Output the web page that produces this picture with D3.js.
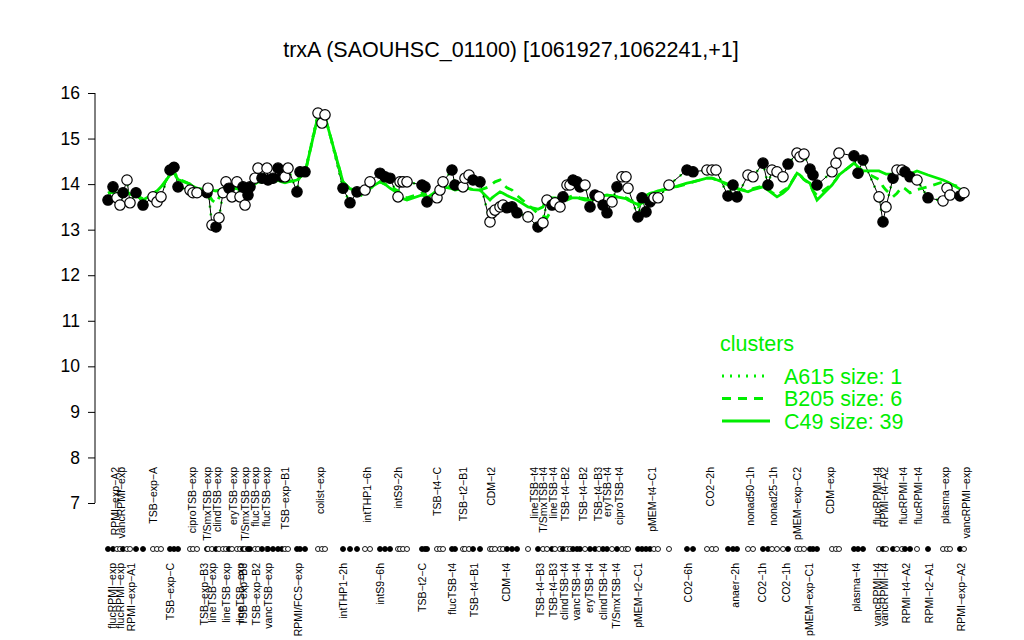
<!DOCTYPE html>
<html><head><meta charset="utf-8">
<script src="https://cdn.jsdelivr.net/npm/d3@7"></script>
<style>body{margin:0;background:#fff}svg{display:block}text{font-family:"Liberation Sans",Arial,sans-serif}</style>
</head><body><svg id="c" width="1024" height="640"></svg>
<script>
const title = "trxA (SAOUHSC_01100) [1061927,1062241,+1]";
const yTicks = [7,8,9,10,11,12,13,14,15,16];
// sample position along the condition order, expression value, filled marker flag
const samplePos = [0.2,1.2,2.0,2.6,3.2,4.0,4.6,5.8,7.2,9.2,10.0,10.8,12.6,13.4,14.2,16.6,17.2,18.0,20.0,20.2,21.0,21.8,22.4,23.2,23.8,24.4,25.0,26.0,26.6,27.2,27.6,28.2,28.6,29.6,30.2,31.0,32.0,32.2,33.2,34.2,35.0,35.6,36.2,38.0,38.6,39.6,42.2,43.0,43.6,47.2,48.6,50.0,51.6,52.6,54.6,55.6,56.6,58.2,58.6,59.2,60.0,63.0,63.6,64.0,66.0,66.6,67.2,69.0,69.6,71.2,71.6,72.4,73.2,74.6,76.6,77.0,77.6,78.6,79.2,80.0,81.0,82.0,84.2,86.2,87.2,88.0,89.0,89.6,90.6,91.2,92.0,92.6,93.2,94.0,94.6,95.6,96.6,97.6,98.4,99.2,100.0,101.0,102.0,103.0,103.8,104.2,106.2,107.0,107.8,108.6,109.4,110.2,112.4,116.0,117.2,120.0,121.0,121.8,124.2,125.2,126.0,128.2,129.2,131.2,132.2,133.0,134.0,135.2,136.2,138.0,138.6,139.4,140.6,141.2,142.0,145.0,145.8,146.4,149.4,150.2,151.2,154.4,155.2,155.8,157.2,158.0,159.0,159.6,160.6,162.0,164.2,167.2,168.0,168.6,170.6,171.4];
const values = [13.65,13.94,13.70,13.54,13.81,14.09,13.59,13.81,13.54,13.72,13.61,13.72,14.31,14.37,13.94,13.87,13.81,13.81,13.81,13.91,13.10,13.06,13.26,13.81,14.05,13.91,13.72,14.05,13.72,13.94,13.54,13.76,13.94,14.13,14.35,14.13,14.35,14.09,14.13,14.35,14.16,14.16,14.35,13.83,14.27,14.27,15.56,15.34,15.52,13.91,13.59,13.83,13.87,14.05,14.24,14.16,14.13,13.72,14.05,14.05,14.05,13.98,13.94,13.61,13.70,13.87,14.05,14.31,13.98,13.94,14.13,14.20,14.09,14.05,13.17,13.37,13.43,13.50,13.54,13.48,13.50,13.37,13.28,13.06,13.15,13.65,13.54,13.59,13.50,13.72,13.98,13.98,14.09,14.05,13.94,13.98,13.50,13.76,13.72,13.54,13.37,13.61,13.94,14.16,14.16,13.91,13.28,13.70,13.39,13.61,13.70,13.70,13.98,14.31,14.27,14.31,14.31,14.31,13.74,13.98,13.72,14.20,14.16,14.46,13.98,14.31,14.27,14.16,14.44,14.68,14.60,14.66,14.33,14.20,13.98,14.27,14.46,14.68,14.62,14.24,14.53,13.72,13.17,13.50,14.13,14.31,14.31,14.27,14.16,14.09,13.70,13.63,13.91,13.76,13.74,13.81];
const filled = [1,1,0,0,1,0,0,1,1,0,0,0,1,1,1,0,0,0,1,0,0,1,0,0,0,1,0,0,0,1,0,1,1,0,0,1,0,1,1,1,1,0,0,1,1,1,0,0,0,1,1,1,0,0,1,1,1,0,0,0,0,1,1,1,0,0,0,1,1,0,0,0,1,1,0,0,0,0,0,1,1,1,0,1,0,0,1,0,0,1,0,0,1,1,1,0,1,1,0,1,1,0,1,0,0,0,1,1,1,1,0,0,0,1,1,0,0,0,1,1,1,0,0,1,1,0,0,0,1,0,0,0,1,1,1,0,0,0,1,1,1,0,1,0,1,0,0,1,1,0,1,0,0,0,1,0];
// cluster mean profiles
const c49 = [13.80,13.82,13.80,13.78,13.80,13.82,13.78,13.75,13.65,13.78,13.85,13.94,14.20,14.25,14.10,14.00,13.95,13.91,13.87,13.87,13.87,13.85,13.87,13.90,13.92,13.94,13.90,13.90,13.87,13.90,13.85,13.90,13.95,14.00,14.05,14.05,14.08,14.05,14.05,14.08,14.05,14.03,14.05,14.09,14.15,14.24,15.50,15.45,15.48,14.05,13.90,13.85,13.81,13.92,14.05,14.00,13.91,13.80,13.72,13.68,13.65,13.76,13.74,13.70,13.85,13.94,13.94,13.90,13.87,13.90,13.91,13.90,13.88,13.87,13.65,13.70,13.75,13.83,13.80,13.75,13.70,13.65,13.50,13.45,13.50,13.72,13.70,13.70,13.68,13.68,13.65,13.68,13.70,13.70,13.68,13.65,13.65,13.70,13.72,13.74,13.76,13.74,13.72,13.70,13.68,13.65,13.55,13.70,13.75,13.80,13.82,13.85,13.90,14.02,14.05,14.13,14.13,14.10,14.00,13.95,13.90,13.83,13.88,13.94,13.87,13.80,13.72,13.80,13.90,14.24,14.20,14.10,14.02,13.85,13.65,13.98,14.10,14.20,14.46,14.38,14.29,14.29,14.25,14.22,14.22,14.24,14.22,14.20,14.22,14.29,14.20,14.09,14.05,14.02,13.89,13.85];
const b205 = [13.80,13.85,13.78,13.75,13.80,13.85,13.76,13.75,13.68,13.80,13.85,13.90,14.22,14.28,14.12,14.00,13.95,13.90,13.85,13.80,13.65,13.58,13.70,13.85,13.92,13.94,13.90,13.92,13.87,13.90,13.85,13.88,13.95,14.02,14.05,14.05,14.10,14.05,14.05,14.10,14.05,14.05,14.08,14.05,14.15,14.24,15.50,15.45,15.48,14.05,13.88,13.80,13.72,13.90,14.05,14.00,13.95,13.85,13.80,13.72,13.70,13.80,13.78,13.72,13.85,13.92,13.94,13.95,13.90,13.90,13.92,13.90,13.88,13.87,13.95,14.00,14.05,14.09,14.00,13.92,13.87,13.75,13.55,13.35,13.30,13.26,13.45,13.60,13.68,13.70,13.70,13.72,13.75,13.72,13.70,13.68,13.65,13.72,13.74,13.74,13.76,13.74,13.72,13.72,13.70,13.68,13.50,13.60,13.55,13.70,13.80,13.85,13.90,14.00,14.05,14.13,14.13,14.10,13.98,13.95,13.90,13.85,13.90,13.96,13.88,13.82,13.75,13.85,13.92,14.24,14.20,14.10,14.00,13.85,13.75,14.00,14.10,14.20,14.46,14.35,14.28,14.10,13.95,13.87,13.72,13.80,13.94,13.90,13.81,13.88,13.94,14.05,14.03,14.00,13.94,13.90];
const a615 = values; // cluster of size 1: the gene itself
const topLabels = ["RPMI\u2212exp\u2212A2","vancRPMI\u2212exp","TSB\u2212exp\u2212A","ciproTSB\u2212exp","T/SmxTSB\u2212exp","clindTSB\u2212exp","eryTSB\u2212exp","T/SmxTSB\u2212exp","flucTSB\u2212exp","flucTSB\u2212exp","TSB\u2212exp\u2212B1","colist\u2212exp","intTHP1\u22126h","intS9\u22122h","TSB\u2212t4\u2212C","TSB\u2212t2\u2212B1","CDM\u2212t2","lineTSB\u2212t4","T/SmxTSB\u2212t4","lineTSB\u2212t4","TSB\u2212t4\u2212B2","TSB\u2212t4\u2212B2","TSB\u2212t4\u2212B3","eryTSB\u2212t4","ciproTSB\u2212t4","pMEM\u2212t4\u2212C1","CO2\u22122h","nonad50\u22121h","nonad25\u22121h","pMEM\u2212exp\u2212C2","CDM\u2212exp","flucRPMI\u2212t4","RPMI\u2212t4\u2212A2","flucRPMI\u2212t4","flucRPMI\u2212t4","plasma\u2212exp","vancRPMI\u2212exp"];
const topLabelPos = [1.6,2.8,9.2,17.0,20.0,22.0,25.2,27.6,29.6,31.8,35.6,42.6,52.0,58.2,66.0,71.2,76.8,85.4,87.2,89.2,91.6,95.2,98.2,100.0,102.4,109.0,120.6,128.6,133.2,138.0,144.6,154.0,155.4,159.2,162.2,167.6,171.8];
const bottomLabels = ["flucRPMI\u2212exp","flucRPMI\u2212exp","RPMI\u2212exp\u2212A1","TSB\u2212exp\u2212C","TSB\u2212exp\u2212B3","lineTSB\u2212exp","lineTSB\u2212exp","lineTSB\u2212exp","TSB\u2212exp\u2212B3","TSB\u2212exp\u2212B2","vancTSB\u2212exp","RPMI/FCS\u2212exp","intTHP1\u22122h","intS9\u22126h","TSB\u2212t2\u2212C","flucTSB\u2212t4","TSB\u2212t4\u2212B1","CDM\u2212t4","TSB\u2212t4\u2212B3","TSB\u2212t4\u2212B3","clindTSB\u2212t4","vancTSB\u2212t4","eryTSB\u2212t4","clindTSB\u2212t4","T/SmxTSB\u2212t4","pMEM\u2212t2\u2212C1","CO2\u22126h","anaer\u22122h","CO2\u22121h","CO2\u22121h","pMEM\u2212exp\u2212C1","plasma\u2212t4","vancRPMI\u2212t4","vancRPMI\u2212t4","RPMI\u2212t4\u2212A2","RPMI\u2212t2\u2212A1","RPMI\u2212exp\u2212A2"];
const bottomLabelPos = [1.0,2.6,4.8,12.6,19.4,21.0,23.8,26.6,27.2,29.8,32.2,38.2,47.2,54.6,63.0,69.0,73.4,79.8,86.6,89.2,91.4,93.8,96.4,99.2,101.8,106.2,116.2,125.6,131.0,135.8,140.4,149.8,154.0,155.4,159.8,164.4,170.8];
const legendTitle = "clusters";
const legendNames = ["A615 size: 1","B205 size: 6","C49 size: 39"];
const legendDash = ["2,6","9,7",null];

const GREEN = "#00ee00";
const svg = d3.select("#c");
const x = d3.scaleLinear().domain([0,172]).range([107,967]);
const y = d3.scaleLinear().domain([7,16]).range([503,93]);

svg.append("text").attr("x",511).attr("y",57).attr("text-anchor","middle")
  .attr("font-size",21.5).text(title);

const ax = svg.append("g").attr("transform","translate(95,0)")
  .call(d3.axisLeft(y).tickValues(yTicks).tickSize(7).tickPadding(8).tickFormat(d3.format("d")));
ax.selectAll(".domain").attr("stroke","#000").attr("fill","none").attr("d","M0,"+y(7)+"V"+y(16));
ax.selectAll("text").attr("font-size",17.5).attr("fill","#000").attr("font-family","Liberation Sans, Arial, sans-serif");
ax.selectAll("line").attr("stroke","#000");

const idx = d3.range(values.length);
const mk = arr => d3.line().x(i=>x(samplePos[i])).y(i=>y(arr[i]));

svg.append("path").attr("d",mk(a615)(idx)).attr("fill","none").attr("stroke",GREEN)
  .attr("stroke-width",2.5).attr("stroke-dasharray",legendDash[0]);
svg.append("path").attr("d",mk(values)(idx)).attr("fill","none").attr("stroke","#000").attr("stroke-width",1);
svg.append("path").attr("d",mk(b205)(idx)).attr("fill","none").attr("stroke",GREEN)
  .attr("stroke-width",2.8).attr("stroke-dasharray",legendDash[1]);
svg.append("path").attr("d",mk(c49)(idx)).attr("fill","none").attr("stroke",GREEN).attr("stroke-width",2.8);

svg.append("g").selectAll("circle").data(idx).join("circle")
  .attr("cx",i=>x(samplePos[i])).attr("cy",i=>y(values[i])).attr("r",5.2)
  .attr("fill",i=>filled[i]?"#000":"#fff").attr("stroke","#000").attr("stroke-width",1.2);

svg.append("g").selectAll("circle").data(idx).join("circle")
  .attr("cx",i=>x(samplePos[i])).attr("cy",549).attr("r",2.5)
  .attr("fill",i=>filled[i]?"#000":"#fff").attr("stroke","#000").attr("stroke-width",0.9);

svg.append("g").selectAll("text").data(topLabels).join("text")
  .attr("transform",(d,i)=>"translate("+x(topLabelPos[i])+",467) rotate(-90)")
  .attr("text-anchor","end").attr("dy","0.35em").attr("font-size",10.5).text(d=>d);
svg.append("g").selectAll("text").data(bottomLabels).join("text")
  .attr("transform",(d,i)=>"translate("+x(bottomLabelPos[i])+",563) rotate(-90)")
  .attr("text-anchor","end").attr("dy","0.35em").attr("font-size",10.5).text(d=>d);

const lg = svg.append("g").attr("transform","translate(720,0)");
lg.append("text").attr("x",0).attr("y",351).attr("fill",GREEN).attr("font-size",21.5).text(legendTitle);
legendNames.forEach((n,i)=>{
  const yy = 376 + i*22.5;
  lg.append("line").attr("x1",2).attr("x2",50).attr("y1",yy).attr("y2",yy)
    .attr("stroke",GREEN).attr("stroke-width",2.8).attr("stroke-dasharray",legendDash[i]);
  lg.append("text").attr("x",64).attr("y",yy+7.5).attr("fill",GREEN).attr("font-size",21.5).text(n);
});
</script></body></html>
